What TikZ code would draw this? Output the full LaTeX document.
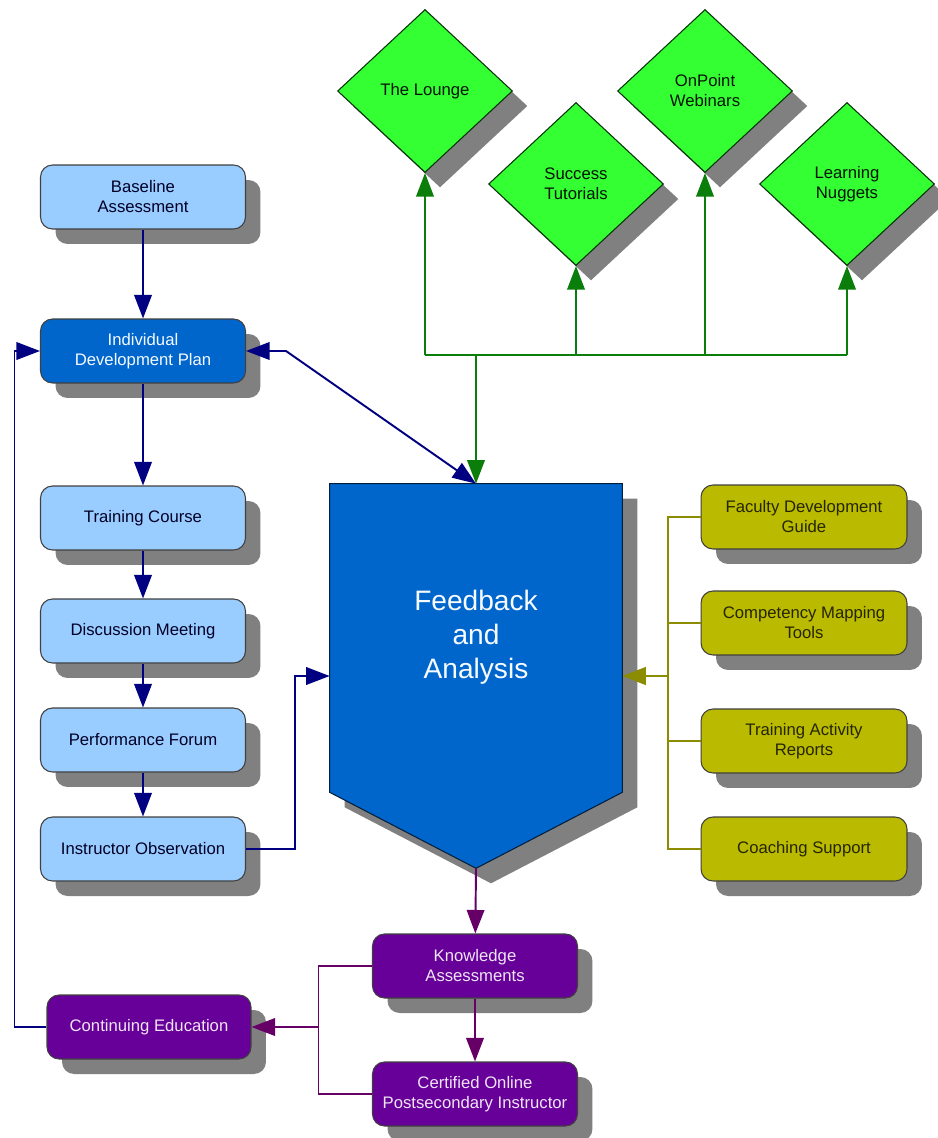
\documentclass[tikz,border=0pt]{standalone}
\usepackage{fontspec}
\setmainfont{Liberation Sans}
\usetikzlibrary{arrows.meta,shapes.geometric,shadows,calc}

\definecolor{paleblue}{HTML}{99CCFF}
\definecolor{midblue}{HTML}{0066CC}
\definecolor{navyline}{HTML}{000080}
\definecolor{limegreen}{HTML}{33FF33}
\definecolor{leafline}{HTML}{0A7D0A}
\definecolor{olivefill}{HTML}{BABA00}
\definecolor{oliveline}{HTML}{8C8C00}
\definecolor{plumfill}{HTML}{660099}
\definecolor{plumline}{HTML}{660066}
\definecolor{shadegray}{HTML}{808080}

\tikzset{
  boxshadow/.style={drop shadow={shadow xshift=0.3cm,shadow yshift=-0.3cm,fill=shadegray,opacity=1}},
  stagebox/.style={draw=black!75,line width=0.6pt,rounded corners=0.24cm,minimum width=4.1cm,minimum height=1.28cm,
    align=center,font=\fontsize{9.5}{11.4}\selectfont,boxshadow},
  palebox/.style={stagebox,fill=paleblue,text=black!85!blue},
  bluebox/.style={stagebox,fill=midblue,text=white!90!paleblue},
  olivebox/.style={stagebox,fill=olivefill,text=black!80!olivefill},
  plumbox/.style={stagebox,fill=plumfill,text=white!90!plumfill},
  resource/.style={diamond,draw=black!60!leafline,line width=0.6pt,fill=limegreen,inner sep=0pt,
    minimum width=3.5cm,minimum height=3.26cm,align=center,font=\fontsize{9.5}{11.4}\selectfont,
    text=black!85!leafline,boxshadow},
  tip/.style={-{Triangle[length=0.47cm,width=0.35cm]}},
  navyarrow/.style={tip,draw=navyline,line width=1.1pt},
  leafarrow/.style={tip,draw=leafline,line width=1.1pt},
  olivearrow/.style={tip,draw=oliveline,line width=1pt},
  plumarrow/.style={tip,draw=plumline,line width=1.1pt},
}

\begin{document}
\begin{tikzpicture}[x=0.02cm,y=-0.02cm]
\useasboundingbox (0,0) rectangle (937,1138);

\node[palebox] (bl) at (143,197) {Baseline\\Assessment};
\node[bluebox] (idp) at (143,351) {Individual\\Development Plan};
\node[palebox] (tc) at (143,518) {Training Course};
\node[palebox] (dm) at (143,631) {Discussion Meeting};
\node[palebox] (pf) at (143,740) {Performance Forum};
\node[palebox] (io) at (143,849) {Instructor Observation};

\node[resource] (lounge) at (425,91) {The Lounge};
\node[resource] (tut) at (576,184) {Success\\Tutorials};
\node[resource] (web) at (705,91) {OnPoint\\Webinars};
\node[resource] (nug) at (847,184) {Learning\\Nuggets};

\node[olivebox,minimum width=4.12cm] (fdg) at (804,517) {Faculty Development\\Guide};
\node[olivebox,minimum width=4.12cm] (cmt) at (804,623) {Competency Mapping\\Tools};
\node[olivebox,minimum width=4.12cm] (tar) at (804,741) {Training Activity\\Reports};
\node[olivebox,minimum width=4.12cm] (cs) at (804,849) {Coaching Support};

\node[plumbox] (ka) at (475,966) {Knowledge\\Assessments};
\node[plumbox] (cert) at (475,1094) {Certified Online\\Postsecondary Instructor};
\node[plumbox,minimum width=4.08cm] (ce) at (149,1027) {Continuing Education};

\node[minimum width=5.84cm,minimum height=7.68cm] (fa) at (476,676) {};
\fill[shadegray] ($(fa.north west)+(15,15)$) -- ($(fa.north east)+(15,15)$) -- ($(fa.south east)+(15,-61)$)
  -- ($(fa.south)+(15,15)$) -- ($(fa.south west)+(15,-61)$) -- cycle;
\filldraw[fill=midblue,draw=black!70!midblue,line width=0.6pt] (fa.north west) -- (fa.north east) -- ($(fa.south east)+(0,-76)$)
  -- (fa.south) -- ($(fa.south west)+(0,-76)$) -- cycle;
\node[align=center,text=white!92!paleblue,font=\fontsize{16}{19.4}\selectfont] (fatext) at (476,637) {Feedback\\and\\Analysis};

\draw[navyarrow] (bl) -- (idp);
\draw[navyarrow] (idp) -- (tc);
\draw[navyarrow] (tc) -- (dm);
\draw[navyarrow] (dm) -- (pf);
\draw[navyarrow] (pf) -- (io);
\draw[navyarrow,{Triangle[length=0.47cm,width=0.35cm]}-{Triangle[length=0.47cm,width=0.35cm]}] (idp.east) -- ++(40,0) -- (fa.north);
\draw[navyarrow] (io.east) -- ++(49,0) |- (fa.west);
\draw[navyarrow] (ce.west) -- ++(-32,0) |- (idp.west);

\coordinate (gbus) at (fa.north |- 0,355);
\draw[leafline,line width=1.1pt] (lounge.south |- gbus) -- (nug.south |- gbus);
\foreach \d in {lounge,tut,web,nug}
  \draw[leafarrow] (\d.south |- gbus) -- (\d.south);
\draw[leafarrow] (gbus) -- (fa.north);

\coordinate (obus) at ($(fa.east)+(46,0)$);
\draw[oliveline,line width=1pt] (fdg.west) -| (obus) |- (cs.west);
\foreach \o in {cmt,tar}
  \draw[oliveline,line width=1pt] (\o.west) -- (\o.west -| obus);
\draw[olivearrow,line width=1.6pt] (obus) -- (fa.east);

\coordinate (pbus) at ($(ce.east)+(67,0)$);
\draw[plumline,line width=1.1pt] (ka.west) -| (pbus) |- (cert.west);
\draw[plumarrow] (pbus) -- (ce.east);
\draw[plumarrow] (fa.south) -- (ka);
\draw[plumarrow] (ka) -- (cert);
\end{tikzpicture}
\end{document}
